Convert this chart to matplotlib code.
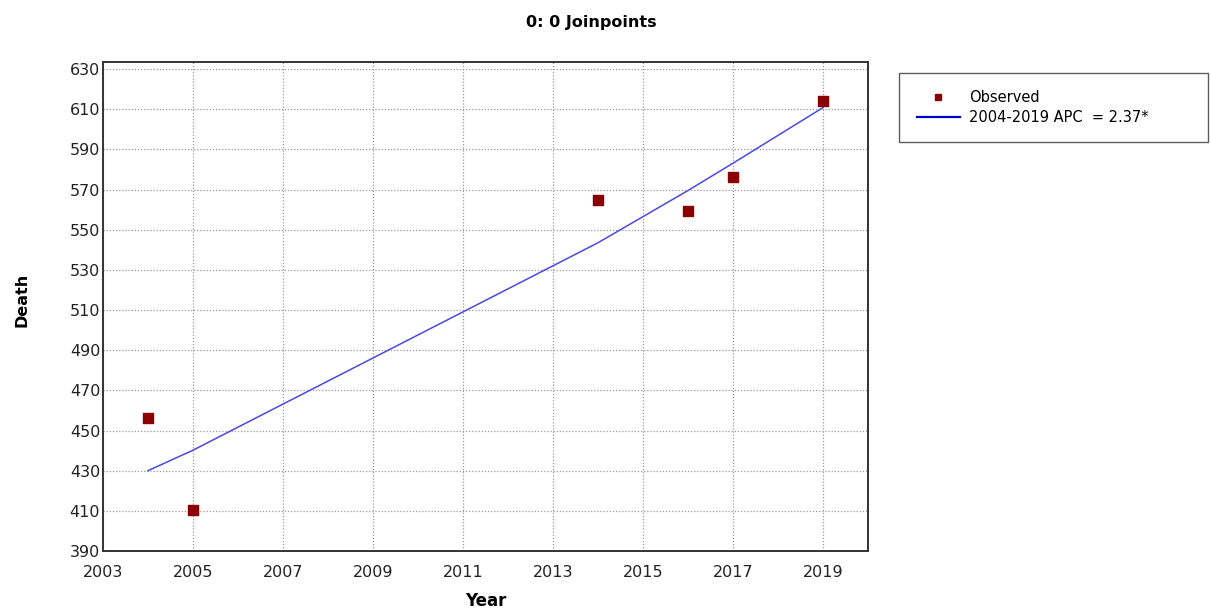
import matplotlib.pyplot as plt
from matplotlib.lines import Line2D

# observed deaths by year
years = [2004, 2005, 2014, 2016, 2017, 2019]
observed = [456, 410.5, 565, 559.5, 576, 614]
# joinpoint model fit (single segment)
fitted = [430.0, 440.2, 543.5, 569.5, 583.1, 610.8]

x_ticks = [2003, 2005, 2007, 2009, 2011, 2013, 2015, 2017, 2019]
y_ticks = [390, 410, 430, 450, 470, 490, 510, 530, 550, 570, 590, 610, 630]

W, H = 1210, 609
fig = plt.figure(figsize=(W / 100, H / 100), dpi=100)
fig.set_facecolor('#FFFFFF')
ax = fig.add_axes([103 / W, 1 - 551 / H, 765 / W, 489 / H])

ax.plot(years, fitted, color='#4a4ae0', lw=1.1, zorder=2)
ax.scatter(years, observed, marker='s', s=45, color='#8b0000', zorder=3)

ax.set_xlim(2003, 2020)
ax.set_ylim(390, 633.5)
ax.set_xticks(x_ticks)
ax.set_yticks(y_ticks)
ax.tick_params(length=0, labelsize=11.5, colors='#222222')
ax.tick_params(axis='x', pad=10)
ax.tick_params(axis='y', pad=2)

ax.grid(True, linestyle=(0, (1, 1.5)), color='#999999', lw=0.9)
ax.set_axisbelow(True)
for sp in ax.spines.values():
    sp.set_color('#333333')
    sp.set_linewidth(1.4)

fig.text(486 / W, 1 - 601 / H, 'Year', ha='center', va='center',
         fontsize=12, fontweight='bold')
fig.text(22 / W, 1 - 300 / H, 'Death', ha='center', va='center',
         fontsize=11.5, fontweight='bold', rotation=90)
fig.text(591 / W, 1 - 22 / H, '0: 0 Joinpoints', ha='center', va='center',
         fontsize=11.5, fontweight='bold')

handles = [
    Line2D([], [], marker='s', linestyle='none', color='#8b0000', markersize=4.5),
    Line2D([], [], color='#0000cc', lw=1.6),
]
labels = ['Observed', '2004-2019 APC  = 2.37*']
leg = fig.legend(handles, labels, loc='upper left',
                 bbox_to_anchor=(899 / W, 1 - 144 / H, 309 / W, 71 / H),
                 mode='expand', fontsize=10.5, frameon=True, fancybox=False,
                 handlelength=3.0, borderpad=1.2, labelspacing=0.3,
                 handletextpad=0.6, borderaxespad=0)
leg.get_frame().set_edgecolor('#333333')
leg.get_frame().set_linewidth(1.0)

fig.savefig('out.png', dpi=100)
